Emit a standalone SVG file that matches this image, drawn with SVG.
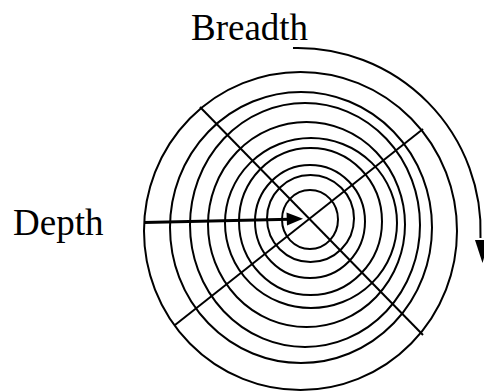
<svg xmlns="http://www.w3.org/2000/svg" width="484" height="392" viewBox="0 0 484 392">
<style>
.ring{fill:none;stroke:#000;stroke-width:2}
.ln{fill:none;stroke:#000;stroke-width:2}
.lbl{font-family:"Liberation Serif","Times New Roman",serif;font-size:37px;fill:#000}
</style>
<rect width="484" height="392" fill="#fff"/>
<g id="rings">
<ellipse class="ring" cx="310" cy="219.5" rx="28" ry="29.5"/>
<ellipse class="ring" cx="310.5" cy="218.5" rx="43.5" ry="43.5"/>
<ellipse class="ring" cx="310" cy="221.5" rx="55" ry="56.5"/>
<ellipse class="ring" cx="310.5" cy="221.5" rx="71.5" ry="73.5"/>
<ellipse class="ring" cx="311" cy="223" rx="86" ry="85"/>
<ellipse class="ring" cx="306.5" cy="224.5" rx="98.5" ry="102.5"/>
<ellipse class="ring" cx="305" cy="225" rx="115" ry="122"/>
<ellipse class="ring" cx="301" cy="227.5" rx="131" ry="135.5"/>
<ellipse class="ring" cx="300.5" cy="231" rx="156.5" ry="159"/>
</g>
<g id="spokes">
<line class="ln" x1="200" y1="107" x2="423" y2="335"/>
<line class="ln" x1="423" y1="129" x2="175" y2="325"/>
</g>
<g id="depth">
<text class="lbl" x="13" y="235">Depth</text>
</g>
<g id="breadth">
<text class="lbl" x="191" y="40">Breadth</text>
</g>
<g id="connectors">
<line x1="144" y1="222.5" x2="290" y2="219.3" stroke="#000" stroke-width="3"/>
<polygon points="286.5,212.5 303,218.8 287,225.5" fill="#000"/>
<path class="ln" d="M293,48 A183,183 0 0 1 480.5,238"/>
<polygon points="475,240 489,240 482.5,263" fill="#000"/>
</g>
</svg>
